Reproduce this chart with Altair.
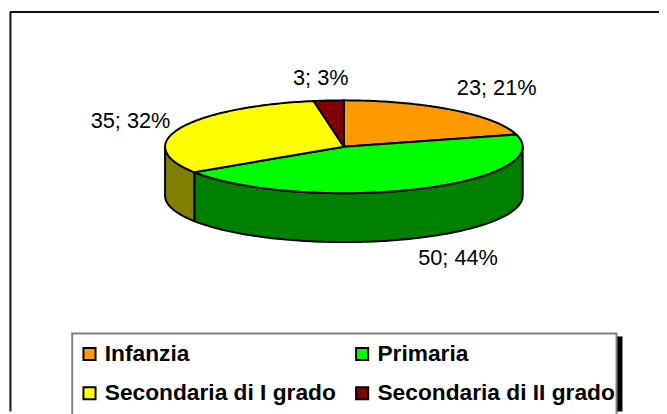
import numpy as np
import pandas as pd
import altair as alt

categories = ["Infanzia", "Primaria", "Secondaria di I grado", "Secondaria di II grado"]
values = [23, 50, 35, 3]
labels = ["23; 21%", "50; 44%", "35; 32%", "3; 3%"]
top_colors = ["#ff9900", "#00ff00", "#ffff00", "#800000"]
side_colors = ["#996600", "#008000", "#808000", "#4d0000"]

# layout (page pixels)
W, H = 659, 406
CX, CY, RX, RY, DEPTH = 348, 146, 181, 47, 49.5
label_offsets = [(45, -22), (41, 70), (-50, -7), (-8, -23)]
FONT = "Liberation Sans"


def rim(theta_deg, drop=0.0):
    t = np.radians(theta_deg)
    return CX + RX * np.sin(t), CY - RY * np.cos(t) + drop


edges = np.concatenate([[0], np.cumsum(values)]) / sum(values) * 360
top_rows, side_rows, label_rows = [], [], []
for i, cat in enumerate(categories):
    a, b = edges[i], edges[i + 1]
    th = np.linspace(a, b, max(int(b - a), 2) + 1)
    xs_, ys_ = rim(th)
    px = [CX, *xs_, CX]
    py = [CY, *ys_, CY]
    for k, (x, y) in enumerate(zip(px, py)):
        top_rows.append(dict(cat=cat, k=k, x=x, y=y))
    lo, hi = max(a, 90), min(b, 270)
    if hi > lo:
        th = np.linspace(lo, hi, int(hi - lo) + 2)
        x1, y1 = rim(th)
        x2, y2 = rim(th[::-1], DEPTH)
        sx = [*x1, *x2, x1[0]]
        sy = [*y1, *y2, y1[0]]
        for k, (x, y) in enumerate(zip(sx, sy)):
            side_rows.append(dict(cat=cat, k=k, x=x, y=y))
    mx, my = rim((a + b) / 2)
    label_rows.append(dict(text=labels[i], x=mx + label_offsets[i][0], y=my + label_offsets[i][1]))

top = pd.DataFrame(top_rows)
side = pd.DataFrame(side_rows)
lab = pd.DataFrame(label_rows)

xs = alt.X("x:Q", scale=alt.Scale(domain=[8, 8 + W], nice=False, zero=False), axis=None)
ys = alt.Y("y:Q", scale=alt.Scale(domain=[8 + H, 8], nice=False, zero=False), axis=None)
order = alt.Order("k:Q")

anchor = alt.Chart(pd.DataFrame({"a": [0]}))
frame_left = anchor.mark_rule(color="#111111", strokeWidth=2).encode(x=alt.value(2.5), y=alt.value(1), y2=alt.value(H))
frame_top = anchor.mark_rule(color="#111111", strokeWidth=2).encode(y=alt.value(1.5), x=alt.value(2), x2=alt.value(W))
box_shadow = anchor.mark_rect(color="black").encode(x=alt.value(615), x2=alt.value(622), y=alt.value(330), y2=alt.value(H))
box = anchor.mark_rect(fill="white", stroke="#808080", strokeWidth=2).encode(
    x=alt.value(65), x2=alt.value(616), y=alt.value(327), y2=alt.value(H + 10)
)

sides = []
for i, cat in enumerate(categories):
    d = side[side.cat == cat]
    if len(d):
        sides.append(
            alt.Chart(d).mark_line(stroke="black", strokeWidth=2, strokeJoin="round", fill=side_colors[i]).encode(
                x=xs, y=ys, order=order
            )
        )

top_layer = alt.Chart(top).mark_line(stroke="black", strokeWidth=2, strokeJoin="round").encode(
    x=xs, y=ys, order=order,
    fill=alt.Fill(
        "cat:N",
        scale=alt.Scale(domain=categories, range=top_colors),
        legend=alt.Legend(
            title=None, orient="none", legendX=71, legendY=336, columns=2, direction="horizontal",
            symbolType="square", symbolSize=150, symbolStrokeColor="black", symbolStrokeWidth=2,
            symbolOpacity=1, labelFont=FONT, labelFontWeight="bold", labelFontSize=23, labelColor="black",
            labelLimit=300, columnPadding=15, rowPadding=16, labelOffset=4, padding=0,
        ),
    ),
)

text = alt.Chart(lab).mark_text(font=FONT, fontSize=22, color="black").encode(x=xs, y=ys, text="text:N")

chart = alt.layer(
    frame_left, frame_top, box_shadow, box, *sides, top_layer, text
).properties(width=W, height=H, padding=0, background="white", autosize=alt.AutoSizeParams(type="none")).configure_view(stroke=None)

chart.save("out.html", embed_options={"renderer": "svg", "actions": False})
